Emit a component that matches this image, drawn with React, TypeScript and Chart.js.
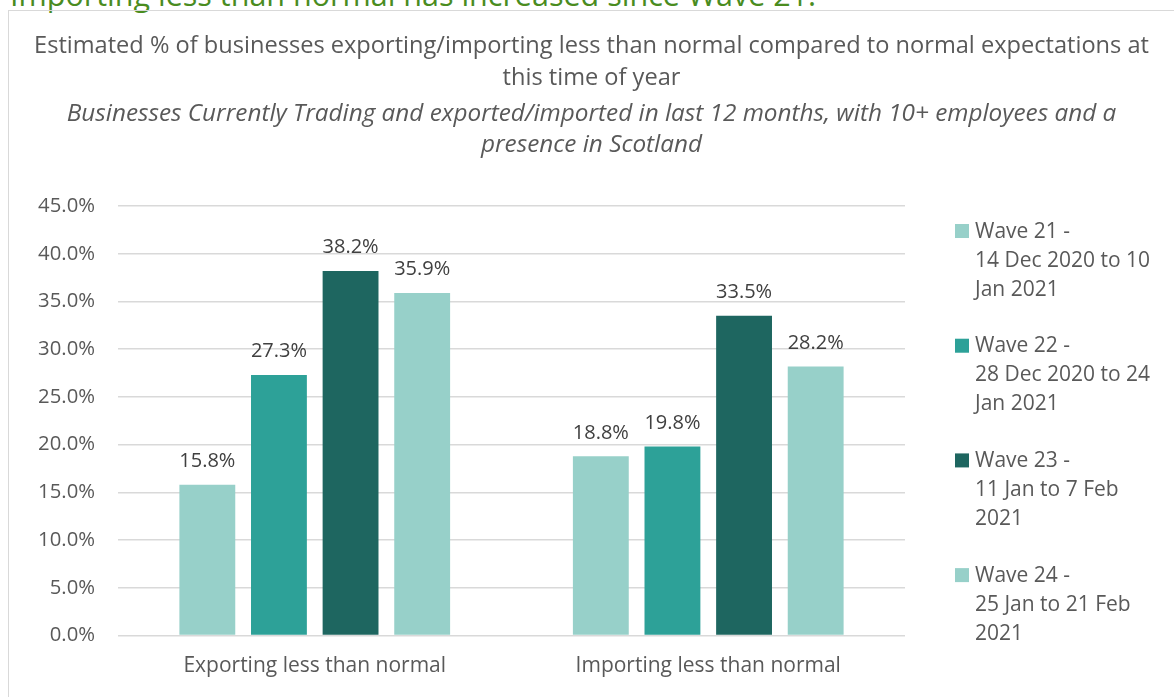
import React, { useEffect, useRef } from "react";
import { Chart, registerables } from "chart.js";

Chart.register(...registerables);

const headline = "Importing less than normal has increased since Wave 21.";
const titleLines = [
  "Estimated % of businesses exporting/importing less than normal compared to normal expectations at",
  "this time of year",
];
const subtitleLines = [
  "Businesses Currently Trading and exported/imported in last 12 months, with 10+ employees and a",
  "presence in Scotland",
];
const categories = ["Exporting less than normal", "Importing less than normal"];
const seriesNames = ["Wave 21", "Wave 22", "Wave 23", "Wave 24"];
const legendLines = [
  ["Wave 21 -", "14 Dec 2020 to 10", "Jan 2021"],
  ["Wave 22 -", "28 Dec 2020 to 24", "Jan 2021"],
  ["Wave 23 -", "11 Jan to 7 Feb", "2021"],
  ["Wave 24 -", "25 Jan to 21 Feb", "2021"],
];
const wave21 = [15.8, 18.8];
const wave22 = [27.3, 19.8];
const wave23 = [38.2, 33.5];
const wave24 = [35.9, 28.2];
const seriesColors = ["#97D0C9", "#2DA198", "#1E6660", "#97D0C9"];
const yMin = 0;
const yMax = 45;
const yStep = 5;

const FONT = "'Open Sans', 'DejaVu Sans', sans-serif";

const dataLabelPlugin = {
  id: "barValueLabels",
  afterDatasetsDraw(chart: any) {
    const ctx = chart.ctx;
    ctx.save();
    ctx.font = `20px ${FONT}`;
    ctx.fillStyle = "#404040";
    ctx.textAlign = "center";
    ctx.textBaseline = "alphabetic";
    chart.data.datasets.forEach((ds: any, i: number) => {
      const meta = chart.getDatasetMeta(i);
      meta.data.forEach((bar: any, j: number) => {
        ctx.fillText(Number(ds.data[j]).toFixed(1) + "%", bar.x, bar.y - 17.5);
      });
    });
    ctx.restore();
  },
};

// Legend drawn to the right of the plot area, with multi-line labels
const sideLegendPlugin = {
  id: "sideLegend",
  afterDraw(chart: any) {
    const ctx = chart.ctx;
    const area = chart.chartArea;
    const boxLeft = area.right + 50;
    const firstTop = area.top + 18;
    const itemPitch = 114.7;
    const linePitch = 29;
    const box = 14;
    ctx.save();
    ctx.font = `21px ${FONT}`;
    ctx.textAlign = "left";
    ctx.textBaseline = "middle";
    chart.data.datasets.forEach((ds: any, i: number) => {
      const top = firstTop + i * itemPitch;
      ctx.fillStyle = ds.backgroundColor;
      ctx.fillRect(boxLeft, top, box, box);
      ctx.fillStyle = "#595959";
      legendLines[i].forEach((line, k) => {
        ctx.fillText(line, boxLeft + 20, top + box / 2 + 0.5 + k * linePitch);
      });
    });
    ctx.restore();
  },
};

export default function App() {
  const canvasRef = useRef<HTMLCanvasElement | null>(null);

  useEffect(() => {
    if (!canvasRef.current) return;
    const seriesData = [wave21, wave22, wave23, wave24];
    const chart = new Chart(canvasRef.current, {
      type: "bar",
      data: {
        labels: categories,
        datasets: seriesData.map((d, i) => ({
          label: seriesNames[i],
          data: d,
          backgroundColor: seriesColors[i],
          borderWidth: 0,
          barPercentage: 0.78,
          categoryPercentage: 0.728,
        })),
      },
      options: {
        animation: false,
        responsive: false,
        maintainAspectRatio: false,
        layout: { padding: { left: 0, right: 0, top: 0, bottom: 1.4 } },
        plugins: {
          title: {
            display: true,
            text: titleLines,
            color: "#595959",
            font: { family: FONT, size: 23.6, weight: "normal", lineHeight: 1.356 },
            padding: { top: 19.5, bottom: 4 },
          },
          subtitle: {
            display: true,
            text: subtitleLines,
            color: "#595959",
            font: { family: FONT, size: 24.3, style: "italic", weight: "normal", lineHeight: 1.276 },
            padding: { top: 0, bottom: 45.5 },
          },
          legend: { display: false },
          tooltip: { enabled: false },
        },
        scales: {
          x: {
            grid: { display: false, drawTicks: false },
            border: { display: false },
            ticks: {
              color: "#595959",
              font: { family: FONT, size: 21 },
              padding: 17.4,
              maxRotation: 0,
            },
          },
          y: {
            min: yMin,
            max: yMax,
            grid: { color: "#D9D9D9", lineWidth: 1.5, drawTicks: false },
            border: { display: false },
            ticks: {
              stepSize: yStep,
              color: "#595959",
              font: { family: FONT, size: 20.3 },
              padding: 23,
              callback: (v: any) => Number(v).toFixed(1) + "%",
            },
            afterFit: (s: any) => {
              s.width = 109;
            },
          },
          legendSpace: {
            position: "right",
            display: true,
            grid: { display: false, drawTicks: false },
            border: { display: false },
            ticks: { display: false },
            afterFit: (s: any) => {
              s.width = 269;
            },
          },
        },
      },
      plugins: [dataLabelPlugin, sideLegendPlugin],
    });
    return () => chart.destroy();
  }, []);

  return (
    <div
      style={{
        position: "fixed",
        left: 0,
        top: 0,
        width: 1174,
        height: 697,
        overflow: "hidden",
        background: "#FFFFFF",
      }}
    >
      <div
        style={{
          position: "absolute",
          left: 10,
          top: -21.1,
          fontFamily: FONT,
          fontSize: 30.5,
          lineHeight: "30.5px",
          color: "#4A8C1F",
          whiteSpace: "nowrap",
        }}
      >
        {headline}
      </div>
      <div
        style={{
          position: "absolute",
          left: 8,
          top: 10,
          width: 1200,
          height: 700,
          border: "1px solid #D9D9D9",
          boxSizing: "border-box",
        }}
      />
      <canvas
        ref={canvasRef}
        width={1165}
        height={686}
        style={{ position: "absolute", left: 9, top: 11, width: 1165, height: 686 }}
      />
    </div>
  );
}
